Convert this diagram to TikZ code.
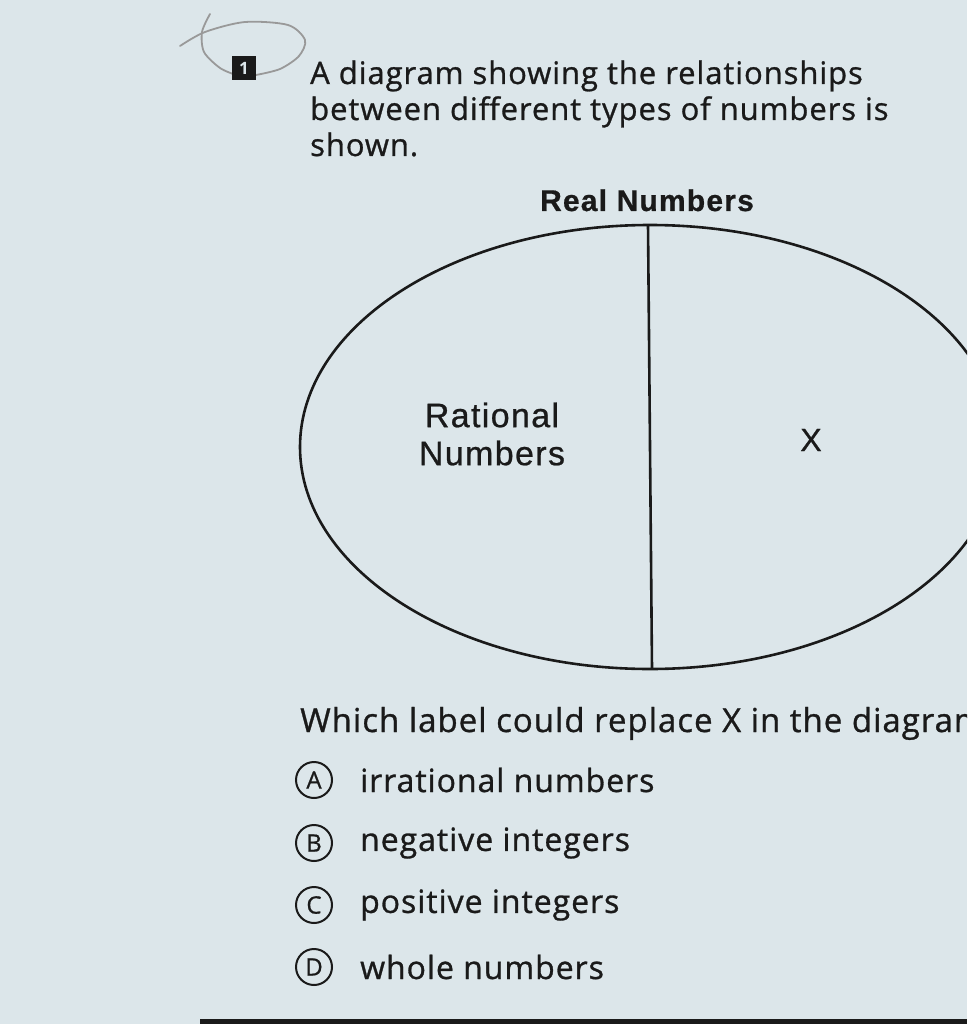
\documentclass[tikz,border=0pt]{standalone}
\usepackage{fontspec}
\setmainfont{Open Sans}
\newfontfamily\arialf[LetterSpace=4,FakeBold=0.7]{Liberation Sans}
\newfontfamily\bodyf[LetterSpace=3,FakeBold=0.9]{Open Sans}
\usetikzlibrary{positioning}
\definecolor{paper}{HTML}{DCE6EA}
\definecolor{ink}{HTML}{1A1A1A}

\begin{document}
\begin{tikzpicture}[x=1pt,y=-1pt,
  txt/.style={anchor=base west,inner sep=0pt,text=ink},
  intro/.style={txt,font=\bodyf\fontsize{31}{31}\selectfont},
  letter/.style={circle,draw=ink,line width=2pt,minimum size=36pt,inner sep=0pt,text=ink,font=\bodyf\fontsize{24}{24}\selectfont},
  choice/.style={anchor=west,inner sep=0pt,text=ink,font=\bodyf\fontsize{32}{32}\selectfont}]
\useasboundingbox (0,0) rectangle (967,1024);
\clip (0,0) rectangle (967,1024);
\fill[paper] (0,0) rectangle (967,1024);

%the pencil loop round the number
\draw[gray!80,line width=1.8pt,line cap=round] plot[smooth] coordinates{(180,46) (205,32) (245,22) (288,25) (305,40) (299,56) (280,69) (256,75)};
\draw[gray!80,line width=1.8pt,line cap=round] plot[smooth] coordinates{(210,14) (202,32) (204,52) (220,68) (236,75)};

\node[fill=ink,minimum width=24pt,minimum height=24pt,inner sep=0pt,text=paper,font=\bfseries\fontsize{17}{17}\selectfont] (num) at (244,68) {1};

\node[intro] (line1) at (310,84) {A diagram showing the relationships};
\node[intro] (line2) at (310,120) {between different types of numbers is};
\node[intro] (line3) at (310,156) {shown.};

%the diagram
\node[anchor=base,inner sep=0pt,text=ink,font=\arialf\bfseries\fontsize{30}{30}\selectfont] (real) at (647,211) {Real Numbers};
\draw[ink,line width=2.6pt] (650,447) ellipse[x radius=350,y radius=222];
\coordinate (top) at (648,225);
\coordinate (bot) at (652,669);
\draw[ink,line width=2.6pt] (top) -- (bot);
\node[align=center,inner sep=0pt,text=ink,font=\arialf\fontsize{34}{38}\selectfont] (rat) at (492,434) {Rational\\Numbers};
\node[inner sep=0pt,text=ink,font=\arialf\fontsize{32}{32}\selectfont] (x) at (811,440) {X};

%the question
\node[txt,font=\bodyf\fontsize{33}{33}\selectfont] (q) at (300,732) {Which label could replace X in the diagram?};

\node[letter] (A) at (314,780) {A};
\node[letter] (B) at (314,843) {B};
\node[letter] (C) at (314,905) {C};
\node[letter] (D) at (314,967) {D};
\node[choice,right=27pt of A] (a) {irrational numbers};
\node[choice,right=27pt of B] (b) {negative integers};
\node[choice,right=27pt of C] (c) {positive integers};
\node[choice,right=27pt of D] (d) {whole numbers};

\fill[ink] (200,1019) rectangle (967,1024);
\end{tikzpicture}
\end{document}
